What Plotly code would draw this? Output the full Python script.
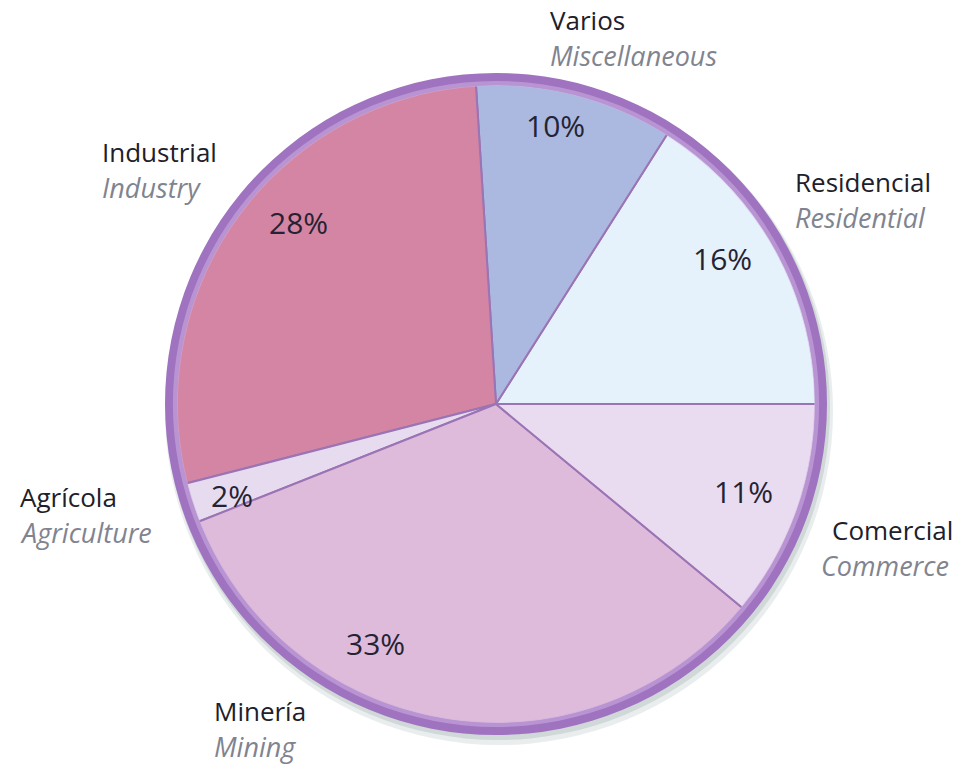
import plotly.graph_objects as go

# ---- data ----
labels_es = ["Residencial", "Varios", "Industrial", "Agrícola", "Minería", "Comercial"]
labels_en = ["Residential", "Miscellaneous", "Industry", "Agriculture", "Mining", "Commerce"]
values = [16, 10, 28, 2, 33, 11]
colors = ["#e5f1fb", "#abb9e0", "#d485a3", "#e7dcef", "#dfbbdb", "#eadcf0"]

W, H = 959, 764
cx, cy = 496, 404          # pie centre in pixels (from top-left)
R_out = 331                # outer radius incl. border ring
R_in = 320                 # radius of slices

def dom(r, dx=0, dy=0):
    x0 = (cx + dx - r) / W
    x1 = (cx + dx + r) / W
    yc = H - (cy + dy)
    return dict(x=[x0, x1], y=[(yc - r) / H, (yc + r) / H])

fig = go.Figure()

# soft shadow
fig.add_trace(go.Pie(values=[1], labels=["shadow"], domain=dom(R_out + 3, 3, 7),
                     marker=dict(colors=["rgba(120,140,140,0.16)"]),
                     textinfo="none", hoverinfo="skip", sort=False, showlegend=False))
fig.add_trace(go.Pie(values=[1], labels=["shadow2"], domain=dom(R_out + 1, 2, 4),
                     marker=dict(colors=["rgba(120,140,140,0.22)"]),
                     textinfo="none", hoverinfo="skip", sort=False, showlegend=False))

# main pie: Residencial starts at 3 o'clock and slices run counterclockwise
total = sum(values)
fig.add_trace(go.Pie(
    values=values, labels=labels_es, domain=dom(R_in),
    marker=dict(colors=colors, line=dict(color="#9a74b4", width=2)),
    sort=False, direction="counterclockwise", rotation=90 - 360 * values[0] / total,
    textinfo="none", hoverinfo="label+percent", showlegend=False,
))

# purple outer ring
fig.add_trace(go.Pie(values=[1], labels=["ring"], domain=dom(R_out), hole=(R_in - 1) / R_out,
                     marker=dict(colors=["#a073c0"], line=dict(width=0)),
                     textinfo="none", hoverinfo="skip", sort=False, showlegend=False))
fig.add_trace(go.Pie(values=[1], labels=["ring2"], domain=dom(R_in + 3), hole=(R_in - 2) / (R_in + 3),
                     marker=dict(colors=["rgba(205,175,225,0.55)"], line=dict(width=0)),
                     textinfo="none", hoverinfo="skip", sort=False, showlegend=False))

# percentage labels (pixel positions)
pct_pos = [(722, 258), (555, 125), (298, 222), (232, 495), (375, 643), (743, 492)]
annotations = []
for v, (px, py) in zip(values, pct_pos):
    annotations.append(dict(x=px / W, y=1 - py / H, xref="paper", yref="paper",
                            text=f"{v}%", showarrow=False,
                            font=dict(family="Open Sans", size=30, color="#252333"),
                            xanchor="center", yanchor="middle"))

# category labels: (x, y of first line, anchor)
lab_pos = [(793, 182, "left"), (548, 20, "left"), (100, 152, "left"),
           (18, 497, "left"), (212, 711, "left"), (955, 530, "right")]
for es, en, (px, py, anc) in zip(labels_es, labels_en, lab_pos):
    annotations.append(dict(x=px / W, y=1 - py / H, xref="paper", yref="paper",
                            text=es, showarrow=False, xanchor=anc, yanchor="middle",
                            font=dict(family="Open Sans", size=26, color="#20202a")))
    annotations.append(dict(x=(px - (4 if anc == "right" else 0)) / W, y=1 - (py + 35) / H,
                            xref="paper", yref="paper",
                            text=f"<i>{en}</i>", showarrow=False, xanchor=anc, yanchor="middle",
                            font=dict(family="Open Sans", size=27, color="#7f8490")))

fig.update_layout(
    width=W, height=H, margin=dict(l=0, r=0, t=0, b=0),
    paper_bgcolor="white", plot_bgcolor="white",
    annotations=annotations, showlegend=False,
)

fig.write_html("out.html")
